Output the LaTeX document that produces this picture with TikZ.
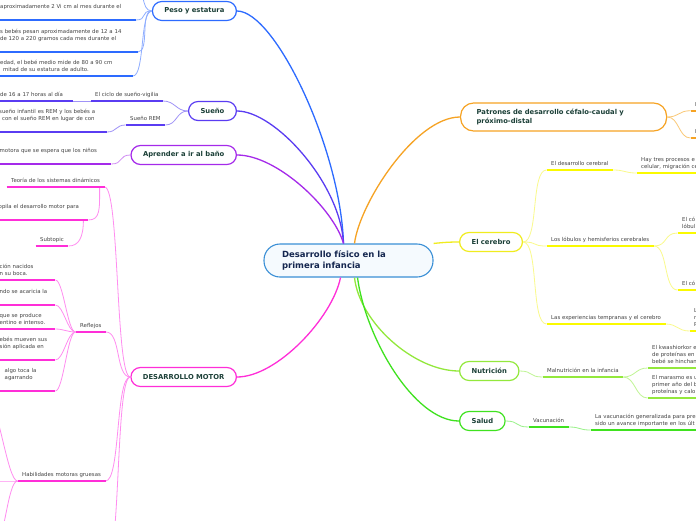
\documentclass[tikz,border=0pt]{standalone}
\usepackage{fontspec}
\setmainfont{DejaVu Sans}
\definecolor{hubline}{HTML}{3A8FD6}
\definecolor{hubfill}{HTML}{F5FAFE}
\definecolor{hubtext}{HTML}{14264F}
\definecolor{maintext}{HTML}{1C4038}
\definecolor{subtext}{HTML}{444444}
\definecolor{cPeso}{HTML}{2D6BFF}
\definecolor{cPesoL}{HTML}{8FAEFF}
\definecolor{cSueno}{HTML}{5A3CF2}
\definecolor{cSuenoL}{HTML}{A093F7}
\definecolor{cBano}{HTML}{A52AEA}
\definecolor{cBanoL}{HTML}{D08CF4}
\definecolor{cMotor}{HTML}{FF2ED8}
\definecolor{cMotorL}{HTML}{FF8DF0}
\definecolor{cPatr}{HTML}{F6A324}
\definecolor{cPatrL}{HTML}{FAC876}
\definecolor{cCere}{HTML}{F0EC1E}
\definecolor{cCereUl}{HTML}{FAFA00}
\definecolor{cCereL}{HTML}{FAFA8C}
\definecolor{cNutr}{HTML}{93E83C}
\definecolor{cNutrL}{HTML}{C0F594}
\definecolor{cSalud}{HTML}{3FE21F}
\definecolor{cSaludL}{HTML}{9AF28A}
\begin{document}
\begin{tikzpicture}[x=1pt,y=-1pt,
  hubbox/.style={draw=hubline,fill=hubfill,line width=1.1pt,rounded corners=16pt,
    text width=133pt,inner xsep=18pt,minimum height=33pt,align=left,
    font=\fontsize{8.5}{11.5}\selectfont\bfseries,text=hubtext},
  mainbox/.style={draw=#1,fill=white,line width=1.2pt,rounded corners=9.5pt,
    minimum height=19pt,inner xsep=12pt,font=\fontsize{6.8}{9}\selectfont\bfseries,text=maintext},
  topic/.style={anchor=south west,inner xsep=4.5pt,inner ysep=2pt,align=left,
    font=\fontsize{5.4}{7}\selectfont,text=subtext,execute at end node=\strut},
  trunk/.style={line width=1.3pt,draw=#1},
  twig/.style={line width=0.8pt,draw=#1},
  uline/.style={line width=2pt,draw=#1},
  lfork/.style={to path={.. controls +(-#1,0) and +(#1,0) .. (\tikztotarget)}},
  rfork/.style={to path={.. controls +(#1,0) and +(-#1,0) .. (\tikztotarget)}}]
  \path[use as bounding box,fill=white] (0,0) rectangle (696,520);
  \clip (0,0) rectangle (696,520);

  % centre and main topics
  \node[hubbox] (hub) at (348.5,260.5) {Desarrollo físico en la\\primera infancia};
  \node[mainbox=cPeso,anchor=east] (peso) at (237,11) {Peso y estatura};
  \node[mainbox=cSueno,anchor=east] (sueno) at (237,111) {Sueño};
  \node[mainbox=cBano,anchor=east] (bano) at (237,155) {Aprender a ir al baño};
  \node[mainbox=cMotor,anchor=east] (motor) at (237,377) {DESARROLLO MOTOR};
  \node[mainbox=cPatr,anchor=west,text width=174pt,inner xsep=16pt,minimum height=28pt,
    rounded corners=13pt,align=left] (patrones) at (460,117) {Patrones de desarrollo céfalo-caudal y\\próximo-distal};
  \node[mainbox=cCere,anchor=west] (cerebro) at (459,242) {El cerebro};
  \node[mainbox=cNutr,anchor=west] (nutri) at (459,371) {Nutrición};
  \node[mainbox=cSalud,anchor=west] (salud) at (459,421) {Salud};

  % peso y estatura
  \node[topic,text width=131pt] (pesoA) at (-4.5,20) {aproximadamente 2 Vi cm al mes durante el\\ };
  \node[topic,text width=133pt] (pesoB) at (-4.5,52) {s bebés pesan aproximadamente de 12 a 14\\de 120 a 220 gramos cada mes durante el\\ };
  \node[topic,text width=128pt] (pesoC) at (-4.5,76) {edad, el bebé medio mide de 80 a 90 cm\\\hspace*{3pt}mitad de su estatura de adulto.};
  \coordinate (pesoD) at (134,-16);

  % sueno
  \node[topic] (ciclo) at (90.5,101) {El ciclo de sueño-vigilia};
  \node[topic,text width=68pt] (cicloA) at (-4.5,101) {de 16 a 17 horas al día};
  \node[topic] (rem) at (125.5,125) {Sueño REM};
  \node[topic,text width=103pt] (remA) at (-5.5,132) {sueño infantil es REM y los bebés a\\\hspace*{3pt}con el sueño REM en lugar de con\\ };

  % bano
  \node[topic,text width=107pt] (banoA) at (-5,164) {motora que se espera que los niños\\ };

  % desarrollo motor
  \node[topic] (teoria) at (6.5,187) {Teoría de los sistemas dinámicos};
  \node[topic,text width=85pt] (recopila) at (-6,220) {opila el desarrollo motor para\\ };
  \node[topic] (subtopic) at (35.5,246) {Subtopic};
  \node[topic] (reflejos) at (75.5,332) {Reflejos};
  \node[topic,text width=51pt] (reflejoA) at (-5,280) {ción nacidos\\n su boca.};
  \node[topic,text width=51pt] (reflejoB) at (-5,305) {ndo se acaricia la\\ };
  \node[topic,text width=51pt] (reflejoC) at (-5,329) {que se produce\\entino e intenso.};
  \node[topic,text width=51pt] (reflejoD) at (-5,360) {ebés mueven sus\\sión aplicada en\\ };
  \node[topic,text width=51pt] (reflejoE) at (-5,391) {\hspace*{5pt}algo toca la\\\hspace*{5pt}agarrando\\ };
  \node[topic] (gruesas) at (17.5,481) {Habilidades motoras gruesas};
  \coordinate (gruesasA) at (-12,400);
  \coordinate (gruesasB) at (-8,481);
  \coordinate (gruesasC) at (-6,548);
  \coordinate (motorE) at (106,565);

  % patrones
  \node[topic,text width=40pt] (patronA) at (690.5,110.7) {E};
  \node[topic,text width=40pt] (patronB) at (690.5,138) {E};

  % el cerebro
  \node[topic] (desarrollo) at (546.5,170) {El desarrollo cerebral};
  \node[topic,text width=120pt] (procesos) at (636.5,173) {Hay tres procesos e\\celular, migración ce};
  \node[topic] (lobulos) at (546.5,246) {Los lóbulos y hemisferios cerebrales};
  \node[topic,text width=60pt] (cortezaA) at (677.5,233) {El có\\lóbul};
  \node[topic,text width=60pt] (cortezaB) at (677.5,290) {El có};
  \node[topic] (experiencias) at (546.5,324) {Las experiencias tempranas y el cerebro};
  \node[topic,text width=40pt] (experienciasA) at (689.5,331) {L\\r\\P};

  % nutricion y salud
  \node[topic] (malnutricion) at (542.5,377) {Malnutrición en la infancia};
  \node[topic,text width=80pt] (kwashiorkor) at (647.5,368) {El kwashiorkor e\\de proteínas en\\bebé se hinchan};
  \node[topic,text width=80pt] (marasmo) at (647.5,398) {El marasmo es u\\primer año del b\\proteínas y calo};
  \node[topic] (vacunacion) at (528.5,427) {Vacunación};
  \node[topic,text width=150pt] (vacunacionA) at (590.5,430) {La vacunación generalizada para pre\\sido un avance importante en los últ};

  % trunks from the centre
  \coordinate (hubTL) at ([xshift=-5pt]hub.north);
  \coordinate (hubTR) at ([xshift=6pt]hub.north);
  \coordinate (hubBL) at ([xshift=-8pt]hub.south);
  \coordinate (hubBR) at ([xshift=6pt]hub.south);
  \draw[trunk=cPeso] (peso.east) .. controls +(38,0) and +(-3,-95) .. (hubTL);
  \draw[trunk=cSueno] (sueno.east) .. controls +(38,0) and +(-3,-60) .. (hubTL);
  \draw[trunk=cBano] (bano.east) .. controls +(40,0) and +(-10,-35) .. (hubTL);
  \draw[trunk=cMotor] (motor.east) .. controls +(40,0) and +(-8,40) .. (hubBL);
  \draw[trunk=cPatr] (hubTR) .. controls +(5,-40) and +(-45,0) .. (patrones.west);
  \draw[trunk=cCere] (hub.north east) .. controls +(10,-1) and +(-10,0) .. (cerebro.west);
  \draw[trunk=cNutr] (hubBR) .. controls +(5,45) and +(-45,0) .. (nutri.west);
  \draw[trunk=cSalud] ([xshift=3pt]hubBR) .. controls +(8,60) and +(-45,0) .. (salud.west);

  % twigs, left side
  \foreach \n in {pesoA,pesoB,pesoC}
    \draw[twig=cPesoL] (peso.west) to[lfork=12] (\n.south east);
  \draw[twig=cPesoL] (peso.west) to[lfork=12] (pesoD);
  \draw[twig=cSuenoL] (sueno.west) to[lfork=12] (ciclo.south east);
  \draw[twig=cSuenoL] (sueno.west) to[lfork=12] (rem.south east);
  \draw[twig=cSuenoL] (ciclo.south west) to[lfork=8] (cicloA.south east);
  \draw[twig=cSuenoL] (rem.south west) to[lfork=10] (remA.south east);
  \draw[twig=cBanoL] (bano.west) to[lfork=12] (banoA.south east);
  \foreach \n in {teoria,reflejos,gruesas}
    \draw[twig=cMotorL] (motor.west) to[lfork=15] (\n.south east);
  \draw[twig=cMotorL] (motor.west) to[lfork=15] (motorE);
  \draw[twig=cMotorL] ([xshift=-5pt]teoria.south east) .. controls +(0,22) and +(12,0) .. (recopila.south east);
  \draw[twig=cMotorL] ([xshift=-5pt]recopila.south east) .. controls +(0,18) and +(10,0) .. (subtopic.south east);
  \foreach \n in {reflejoA,reflejoB,reflejoC,reflejoD,reflejoE}
    \draw[twig=cMotorL] (reflejos.south west) to[lfork=8] (\n.south east);
  \foreach \n in {gruesasA,gruesasB,gruesasC}
    \draw[twig=cMotorL] (gruesas.south west) to[lfork=10] (\n);

  % twigs, right side
  \foreach \n in {patronA,patronB}
    \draw[twig=cPatrL] (patrones.east) to[rfork=12] (\n.south west);
  \foreach \n in {desarrollo,lobulos,experiencias}
    \draw[twig=cCereL] (cerebro.east) to[rfork=16] (\n.south west);
  \draw[twig=cCereL] (desarrollo.south east) to[rfork=12] (procesos.south west);
  \draw[twig=cCereL] (lobulos.south east) to[rfork=14] (cortezaA.south west);
  \draw[twig=cCereL] (lobulos.south east) to[rfork=14] (cortezaB.south west);
  \draw[twig=cCereL] (experiencias.south east) to[rfork=12] (experienciasA.south west);
  \draw[twig=cNutrL] (nutri.east) to[rfork=14] (malnutricion.south west);
  \draw[twig=cNutrL] (malnutricion.south east) to[rfork=12] (kwashiorkor.south west);
  \draw[twig=cNutrL] (malnutricion.south east) to[rfork=12] (marasmo.south west);
  \draw[twig=cSaludL] (salud.east) to[rfork=14] (vacunacion.south west);
  \draw[twig=cSaludL] (vacunacion.south east) to[rfork=12] (vacunacionA.south west);

  % underlines
  \foreach \n in {pesoA,pesoB,pesoC}
    \draw[uline=cPeso] (\n.south west) -- (\n.south east);
  \foreach \n in {ciclo,cicloA,rem,remA}
    \draw[uline=cSueno] (\n.south west) -- (\n.south east);
  \draw[uline=cBano] (banoA.south west) -- (banoA.south east);
  \foreach \n in {teoria,recopila,subtopic,reflejos,reflejoA,reflejoB,reflejoC,reflejoD,reflejoE,gruesas}
    \draw[uline=cMotor] (\n.south west) -- (\n.south east);
  \foreach \n in {patronA,patronB}
    \draw[uline=cPatr] (\n.south west) -- (\n.south east);
  \foreach \n in {desarrollo,procesos,lobulos,cortezaA,cortezaB,experiencias,experienciasA}
    \draw[uline=cCereUl] (\n.south west) -- (\n.south east);
  \foreach \n in {malnutricion,kwashiorkor,marasmo}
    \draw[uline=cNutr] (\n.south west) -- (\n.south east);
  \foreach \n in {vacunacion,vacunacionA}
    \draw[uline=cSalud] (\n.south west) -- (\n.south east);
\end{tikzpicture}
\end{document}
